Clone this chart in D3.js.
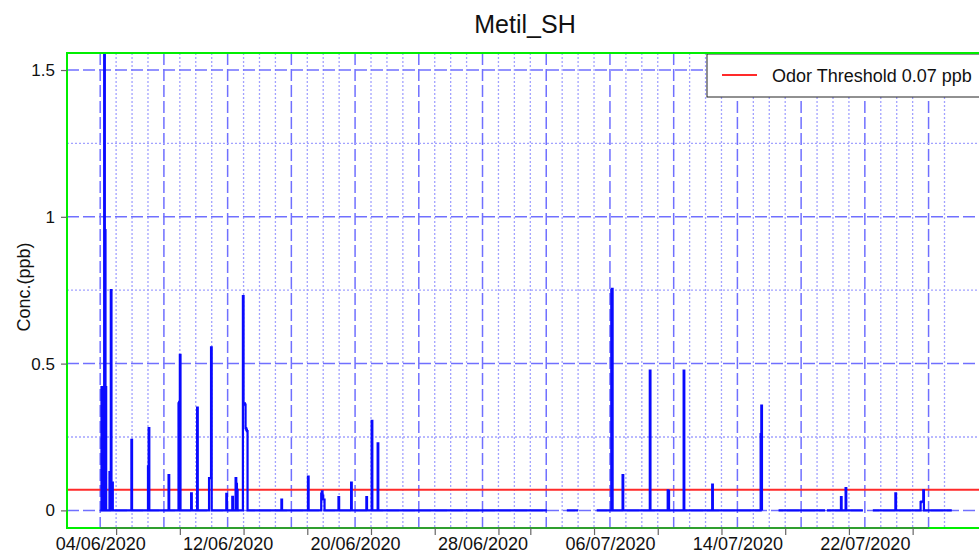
<!DOCTYPE html>
<html><head><meta charset="utf-8">
<script src="https://cdn.jsdelivr.net/npm/d3@7"></script>
<style>
body{margin:0;background:#fff;overflow:hidden}
svg{display:block}
text{font-family:"Liberation Sans",Arial,sans-serif;fill:#111}
</style>
</head><body>
<svg id="c" width="979" height="553"></svg>
<script>
// ---------- data ----------
const chartTitle = "Metil_SH";
const yTitle = "Conc.(ppb)";
const legendLabel = "Odor Threshold 0.07 ppb";
const threshold = 0.07;
const xDomain = ["2020-06-01 22:00", "2020-07-29 10:00"];
const yDomain = [-0.06, 1.558];
const yTicks = [0, 0.5, 1, 1.5];
const yTickLabels = ["0", "0.5", "1", "1.5"];
const yMinorGrid = [0.25, 0.75, 1.25];
const xLabelDates = ["2020-06-04 00:00","2020-06-12 00:00","2020-06-20 00:00","2020-06-28 00:00","2020-07-06 00:00","2020-07-14 00:00","2020-07-22 00:00"];
const xTickLabels = ["04/06/2020","12/06/2020","20/06/2020","28/06/2020","06/07/2020","14/07/2020","22/07/2020"];
const gridFirstDay = "2020-06-04 00:00";
const gridLastDay = "2020-07-27 00:00";
const majorTickLast = "2020-07-26 00:00";

// hourly readings above zero (all other valid hours read 0)
const eventTimes = [
 "2020-06-04 02:00","2020-06-04 06:00","2020-06-04 07:00","2020-06-04 08:00","2020-06-04 14:00","2020-06-04 16:00","2020-06-04 18:00",
 "2020-06-05 23:00","2020-06-07 00:00","2020-06-07 01:00","2020-06-08 07:00","2020-06-08 22:00","2020-06-08 23:00","2020-06-09 00:00",
 "2020-06-09 17:00","2020-06-10 02:00","2020-06-10 20:00","2020-06-10 21:00","2020-06-10 22:00","2020-06-10 23:00","2020-06-11 22:00",
 "2020-06-12 07:00","2020-06-12 12:00","2020-06-12 13:00","2020-06-12 14:00","2020-06-12 23:00","2020-06-13 00:00","2020-06-13 01:00",
 "2020-06-13 02:00","2020-06-13 03:00","2020-06-13 04:00","2020-06-13 05:00","2020-06-15 09:00","2020-06-17 01:00","2020-06-17 21:00",
 "2020-06-17 22:00","2020-06-17 23:00","2020-06-18 00:00","2020-06-18 01:00","2020-06-18 23:00","2020-06-19 18:00","2020-06-20 17:00",
 "2020-06-21 01:00","2020-06-21 10:00","2020-07-06 02:00","2020-07-06 03:00","2020-07-06 19:00","2020-07-08 12:00","2020-07-09 15:00",
 "2020-07-09 16:00","2020-07-10 15:00","2020-07-12 10:00","2020-07-15 11:00","2020-07-15 12:00","2020-07-20 12:00","2020-07-20 19:00",
 "2020-07-23 22:00","2020-07-25 12:00","2020-07-25 13:00","2020-07-25 14:00","2020-07-25 15:00","2020-07-25 16:00"
];
const eventValues = [
 0.42, 2.3, 0.955, 0.42, 0.13, 0.75, 0.095,
 0.24, 0.15, 0.28, 0.12, 0.365, 0.37, 0.53,
 0.058, 0.35, 0.11, 0.11, 0.11, 0.555, 0.056,
 0.046, 0.11, 0.09, 0.07, 0.73, 0.365, 0.365,
 0.36, 0.28, 0.275, 0.27, 0.037, 0.115, 0.057,
 0.065, 0.05, 0.037, 0.037, 0.045, 0.095, 0.045,
 0.305, 0.228, 0.75, 0.755, 0.12, 0.476, 0.068,
 0.066, 0.476, 0.088, 0.26, 0.357, 0.045, 0.076,
 0.058, 0.028, 0.03, 0.03, 0.03, 0.068
];
// periods with valid records
const segStarts = ["2020-06-04 00:00","2020-07-03 07:00","2020-07-05 04:00","2020-07-16 14:00","2020-07-19 15:00","2020-07-22 12:00"];
const segEnds   = ["2020-07-02 01:00","2020-07-04 00:00","2020-07-15 13:00","2020-07-19 12:00","2020-07-21 21:00","2020-07-27 11:00"];

// ---------- layout ----------
const L = 67, R = 983, T = 53, B = 528;
const parse = d3.utcParse("%Y-%m-%d %H:%M");
const HOUR = 3600 * 1000;

const svg = d3.select("#c");
const x = d3.scaleUtc().domain(xDomain.map(parse)).range([L, R]);
const y = d3.scaleLinear().domain(yDomain).range([B, T]);

svg.append("defs").append("clipPath").attr("id", "plotclip")
  .append("rect").attr("x", L).attr("y", T).attr("width", R - L).attr("height", B - T);

// ---------- grid ----------
const grid = svg.append("g");
const days = d3.utcDay.range(parse(gridFirstDay), d3.utcDay.offset(parse(gridLastDay), 1));
days.forEach((d, i) => {
  const major = i % 4 === 0;
  grid.append("line")
    .attr("x1", x(d)).attr("x2", x(d)).attr("y1", T).attr("y2", B)
    .attr("stroke", major ? "#7070ff" : "#a2a2ff")
    .attr("stroke-width", major ? 1.5 : 1.3)
    .attr("stroke-dasharray", major ? "12,4" : "2,2");
});
yMinorGrid.forEach(v => {
  grid.append("line").attr("x1", L).attr("x2", R).attr("y1", y(v)).attr("y2", y(v))
    .attr("stroke", "#a2a2ff").attr("stroke-width", 1.3).attr("stroke-dasharray", "2,2");
});
yTicks.forEach(v => {
  grid.append("line").attr("x1", L).attr("x2", R).attr("y1", y(v)).attr("y2", y(v))
    .attr("stroke", "#7070ff").attr("stroke-width", 1.5).attr("stroke-dasharray", "12,4");
});

// ---------- threshold ----------
svg.append("line").attr("x1", L).attr("x2", R).attr("y1", y(threshold)).attr("y2", y(threshold))
  .attr("stroke", "#ff2a2a").attr("stroke-width", 2);

// ---------- series ----------
const events = eventTimes.map((t, i) => ({ t: parse(t), v: eventValues[i] }))
  .sort((a, b) => a.t - b.t);
const eventSet = new Set(events.map(e => +e.t));
const line = d3.line().curve(d3.curveStepAfter).x(d => x(d.t)).y(d => y(d.v));
const dataG = svg.append("g").attr("clip-path", "url(#plotclip)");
segStarts.forEach((s, k) => {
  const s0 = parse(s), e0 = parse(segEnds[k]);
  const pts = [{ t: s0, v: 0 }];
  events.filter(e => e.t >= s0 && e.t <= e0).forEach(e => {
    pts.push(e);
    if (!eventSet.has(+e.t + HOUR)) pts.push({ t: new Date(+e.t + HOUR), v: 0 });
  });
  pts.push({ t: e0, v: 0 });
  dataG.append("path").datum(pts).attr("d", line)
    .attr("fill", "none").attr("stroke", "#0a0aff").attr("stroke-width", 2.2)
    .attr("stroke-linejoin", "miter");
});

// ---------- frame ----------
svg.append("rect").attr("x", L).attr("y", T).attr("width", R - L).attr("height", B - T)
  .attr("fill", "none").attr("stroke", "#00ee00").attr("stroke-width", 2);
svg.append("line").attr("x1", x(parse(gridFirstDay))).attr("x2", x(parse(majorTickLast)))
  .attr("y1", B).attr("y2", B).attr("stroke", "#2f9f2f").attr("stroke-width", 2);

// ---------- axes ----------
const majorTicks = d3.utcDay.every(4).range(parse(gridFirstDay), d3.utcDay.offset(parse(majorTickLast), 1));
const xAxisTicks = svg.append("g").attr("transform", `translate(0,${B})`)
  .call(d3.axisBottom(x).tickValues(majorTicks).tickSize(7).tickFormat(""));
xAxisTicks.select(".domain").remove();
xAxisTicks.selectAll(".tick line").attr("stroke", "#666").attr("stroke-width", 1.2);

const labelDates = xLabelDates.map(parse);
const xAxisLabels = svg.append("g").attr("transform", `translate(0,${B})`)
  .call(d3.axisBottom(x).tickValues(labelDates).tickSize(0).tickPadding(0)
    .tickFormat((d, i) => xTickLabels[i]));
xAxisLabels.select(".domain").remove();
xAxisLabels.selectAll("text").attr("font-size", 18).attr("dy", null).attr("y", 22)
  .attr("font-family", "'Liberation Sans', Arial, sans-serif").attr("fill", "#111");

const yAxis = svg.append("g").attr("transform", `translate(${L},0)`)
  .call(d3.axisLeft(y).tickValues(yTicks).tickSize(6).tickPadding(6)
    .tickFormat((d, i) => yTickLabels[i]));
yAxis.select(".domain").remove();
yAxis.selectAll(".tick line").attr("stroke", "#666").attr("stroke-width", 1.2);
yAxis.selectAll("text").attr("font-size", 17)
  .attr("font-family", "'Liberation Sans', Arial, sans-serif").attr("fill", "#111");

// ---------- titles ----------
svg.append("text").attr("x", 525).attr("y", 33).attr("text-anchor", "middle")
  .attr("font-size", 25).text(chartTitle);
svg.append("text").attr("transform", "translate(30,287) rotate(-90)")
  .attr("text-anchor", "middle").attr("font-size", 18).text(yTitle);

// ---------- legend ----------
const lg = svg.append("g");
lg.append("rect").attr("x", 707).attr("y", 54).attr("width", 280).attr("height", 43)
  .attr("fill", "#fff").attr("stroke", "#222").attr("stroke-width", 1);
lg.append("line").attr("x1", 722).attr("x2", 757).attr("y1", 75).attr("y2", 75)
  .attr("stroke", "#ff2a2a").attr("stroke-width", 2);
lg.append("text").attr("x", 772).attr("y", 82).attr("font-size", 18).text(legendLabel);
svg.append("line").attr("x1", L).attr("x2", R).attr("y1", T).attr("y2", T)
  .attr("stroke", "#00ee00").attr("stroke-width", 2);
</script>
</body></html>
